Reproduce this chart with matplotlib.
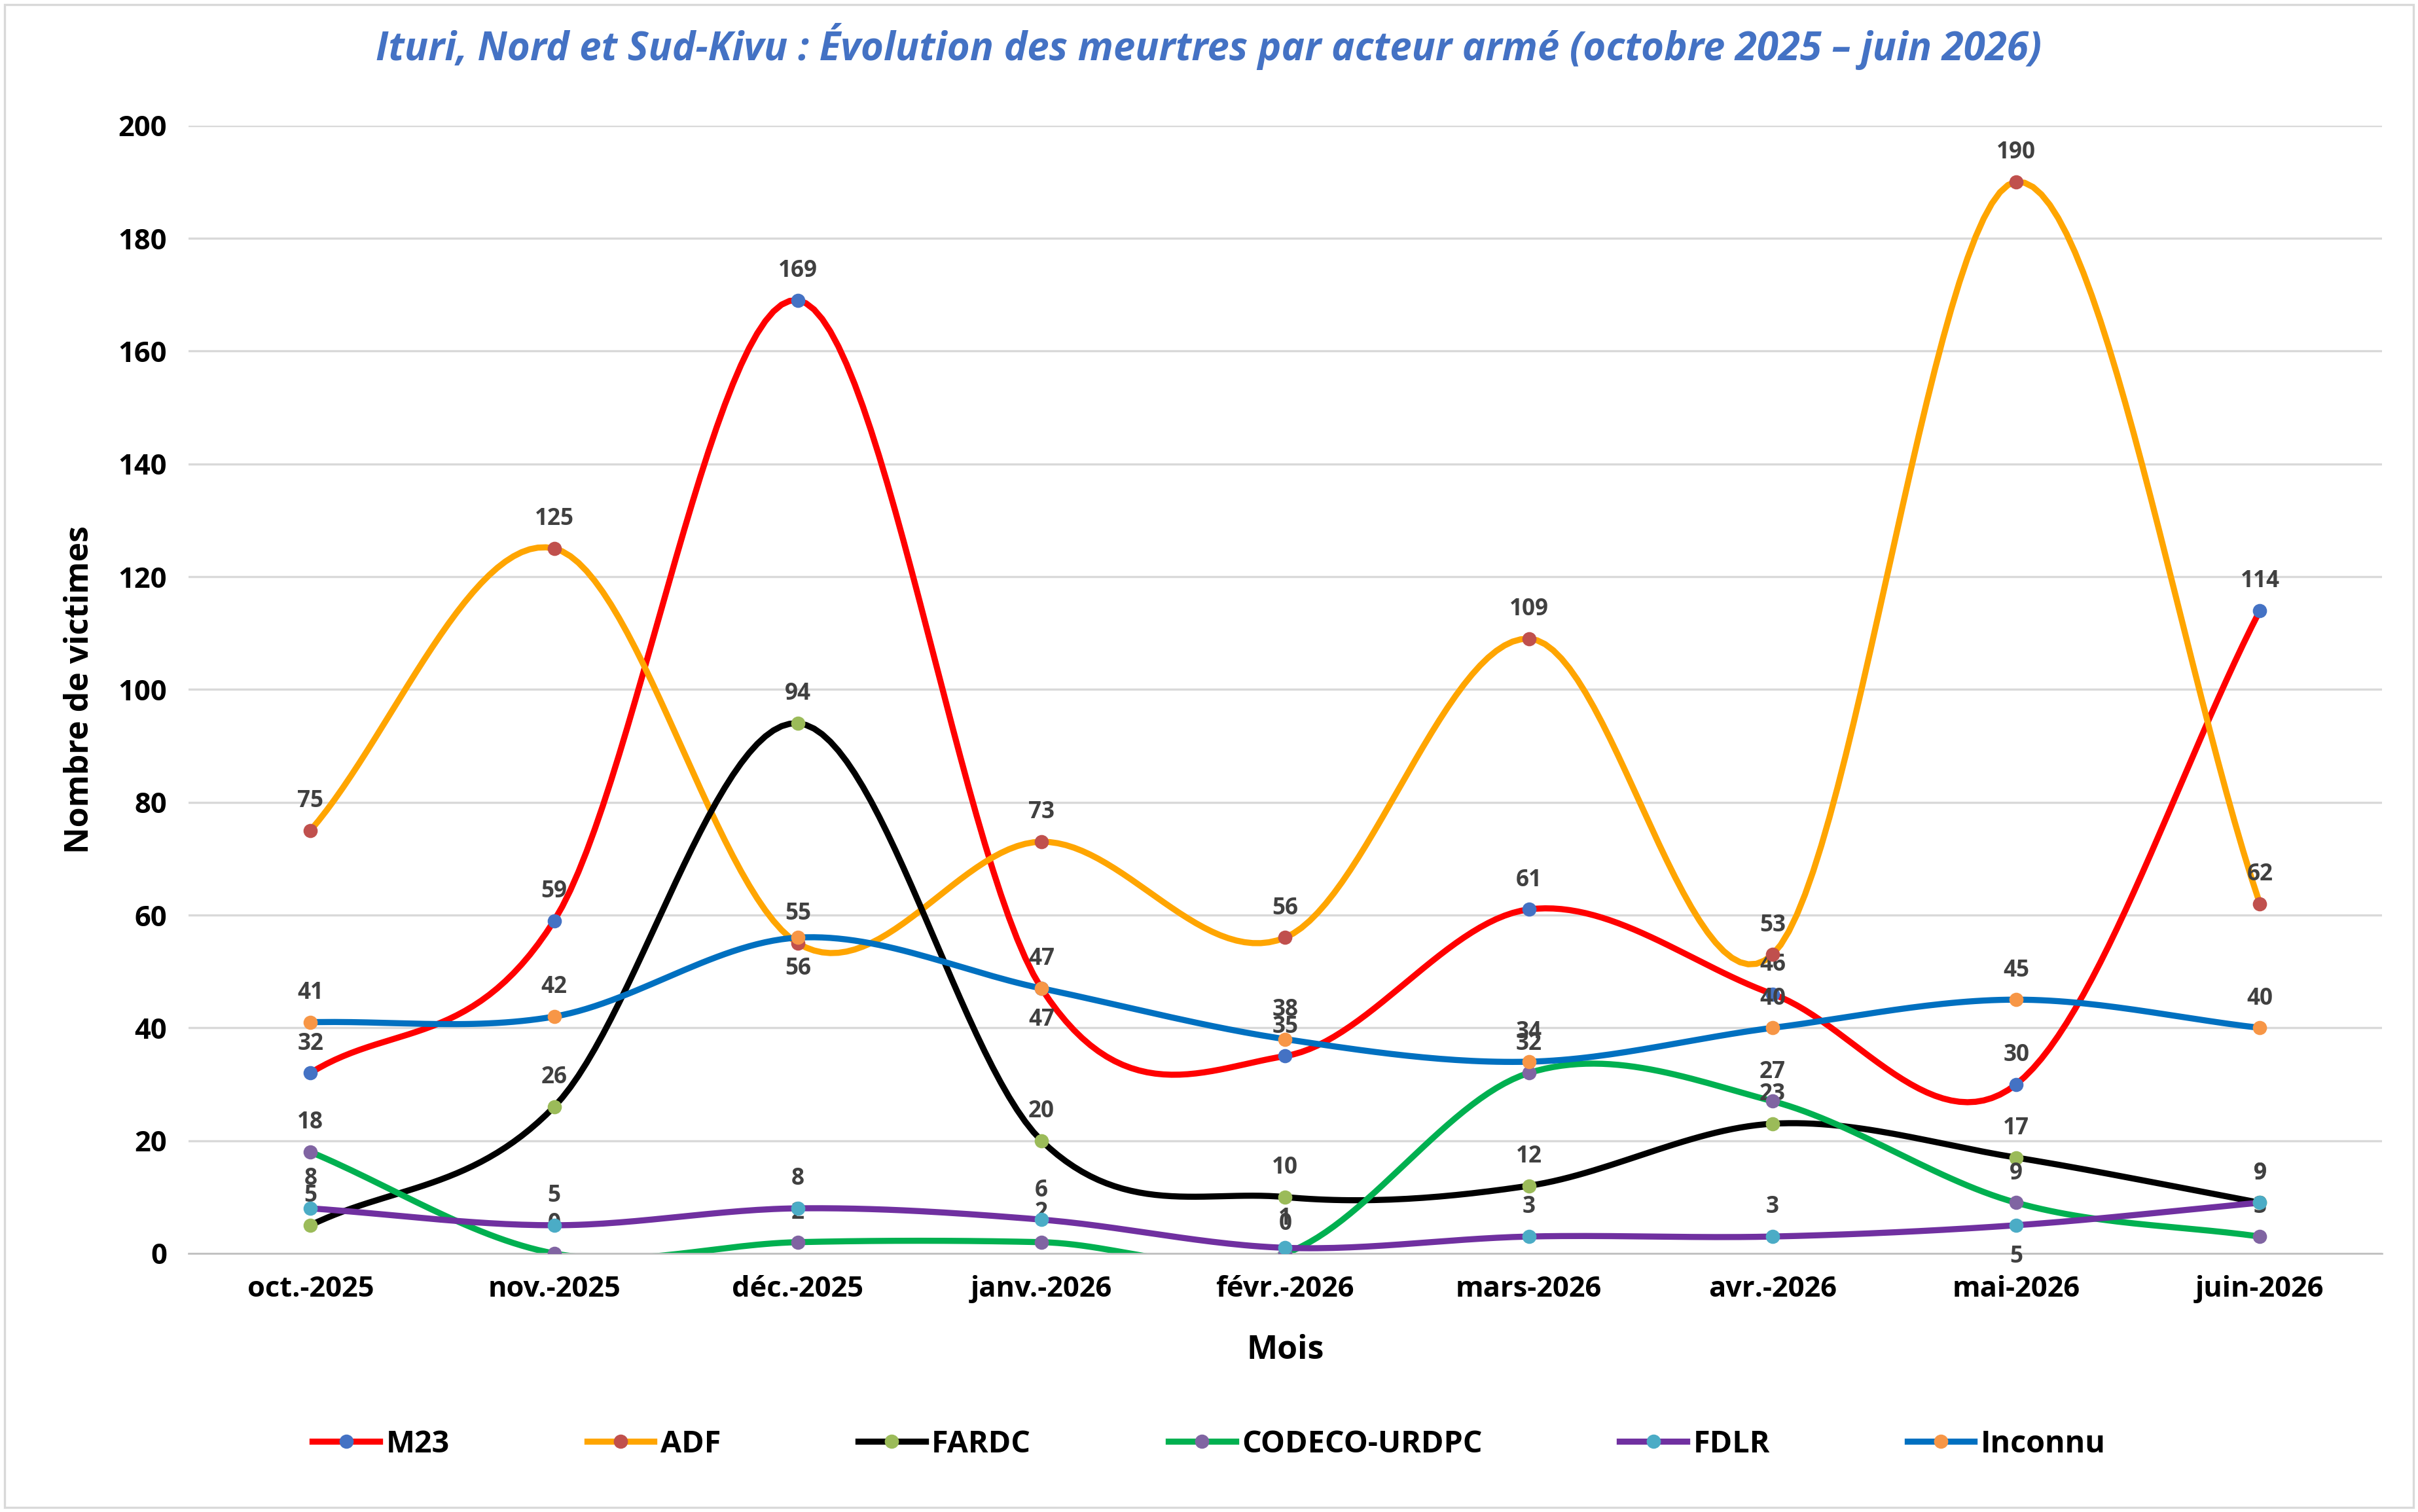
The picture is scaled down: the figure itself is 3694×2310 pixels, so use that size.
import numpy as np
import matplotlib
matplotlib.use("Agg")
import matplotlib.pyplot as plt

months = ["oct.-2025", "nov.-2025", "déc.-2025", "janv.-2026", "févr.-2026",
          "mars-2026", "avr.-2026", "mai-2026", "juin-2026"]
m23 = [32, 59, 169, 47, 35, 61, 46, 30, 114]
adf = [75, 125, 55, 73, 56, 109, 53, 190, 62]
fardc = [5, 26, 94, 20, 10, 12, 23, 17, 9]
codeco = [18, 0, 2, 2, 0, 32, 27, 9, 3]
fdlr = [8, 5, 8, 6, 1, 3, 3, 5, 9]
inconnu = [41, 42, 56, 47, 38, 34, 40, 45, 40]

series = [
    ("M23", m23, "#FF0000", "#4472C4"),
    ("ADF", adf, "#FFA500", "#C0504D"),
    ("FARDC", fardc, "#000000", "#9BBB59"),
    ("CODECO-URDPC", codeco, "#00B050", "#8064A2"),
    ("FDLR", fdlr, "#7030A0", "#4BACC6"),
    ("Inconnu", inconnu, "#0070C0", "#F79646"),
]
# label placed below the point: (series, index)
below = {("Inconnu", 2), ("M23", 3), ("FDLR", 7)}

plt.rcParams['font.family'] = ['Open Sans', 'DejaVu Sans']

def smooth(y, n=30):
    y = np.asarray(y, float)
    x = np.arange(len(y), dtype=float)
    P = np.concatenate([[2*y[0]-y[1]], y, [2*y[-1]-y[-2]]])
    xs, ys = [], []
    for i in range(len(y)-1):
        p0, p1, p2, p3 = P[i], P[i+1], P[i+2], P[i+3]
        t = np.linspace(0, 1, n, endpoint=(i == len(y)-2))
        yy = 0.5*((2*p1) + (-p0+p2)*t + (2*p0-5*p1+4*p2-p3)*t**2 + (-p0+3*p1-3*p2+p3)*t**3)
        xs.append(x[i] + t); ys.append(yy)
    return np.concatenate(xs), np.concatenate(ys)

fig = plt.figure(figsize=(3694/240, 2310/240), dpi=240)
ax = fig.add_axes([0.078, 0.171, 0.907, 0.746])
x = np.arange(len(months))
for name, vals, lc, mc in series:
    sx, sy = smooth(vals)
    ax.plot(sx, sy, color=lc, lw=2.8, zorder=2)
    ax.plot(x, vals, 'o', color=mc, ms=5.5, zorder=3)
    ax.plot([], [], color=lc, lw=2.8, marker='o', mfc=mc, mec=mc, ms=5.5, label=name)
    for i, (xi, v) in enumerate(zip(x, vals)):
        dn = (name, i) in below
        ax.annotate(str(v), (xi, v), xytext=(0, -9 if dn else 8), textcoords='offset points',
                    ha='center', va='top' if dn else 'bottom', fontsize=10.5,
                    fontweight='bold', color='#404040', annotation_clip=False)

ax.set_ylim(0, 200)
ax.set_xlim(-0.5, 8.5)
ax.set_yticks(range(0, 201, 20))
ax.set_xticks(x)
ax.set_xticklabels(months, fontsize=13, fontweight='bold')
ax.tick_params(axis='y', labelsize=13, length=0, pad=10)
for t in ax.get_yticklabels():
    t.set_fontweight('bold')
ax.tick_params(axis='x', length=0, pad=10)
ax.grid(axis='y', color='#D9D9D9', lw=1)
ax.set_axisbelow(True)
for s in ['top', 'right', 'left']:
    ax.spines[s].set_visible(False)
ax.spines['bottom'].set_color('#BFBFBF')
ax.set_ylabel("Nombre de victimes", fontsize=15, fontweight='bold', labelpad=10)
ax.set_xlabel("Mois", fontsize=15, fontweight='bold', labelpad=14)
fig.suptitle("Ituri, Nord et Sud-Kivu : Évolution des meurtres par acteur armé (octobre 2025 – juin 2026)",
             x=0.5, y=0.985, fontsize=18, fontweight='bold', style='italic', color='#4472C4')
fig.legend(loc='center', bbox_to_anchor=(0.5, 0.045), ncol=6, frameon=False,
           prop={'weight': 'bold', 'size': 14}, handlelength=2.2, handletextpad=0.2,
           columnspacing=4.5)
fig.patches.append(plt.Rectangle((0.002, 0.003), 0.996, 0.994, transform=fig.transFigure,
                                 fill=False, ec='#D9D9D9', lw=1))
fig.savefig("out.png", dpi=240)
